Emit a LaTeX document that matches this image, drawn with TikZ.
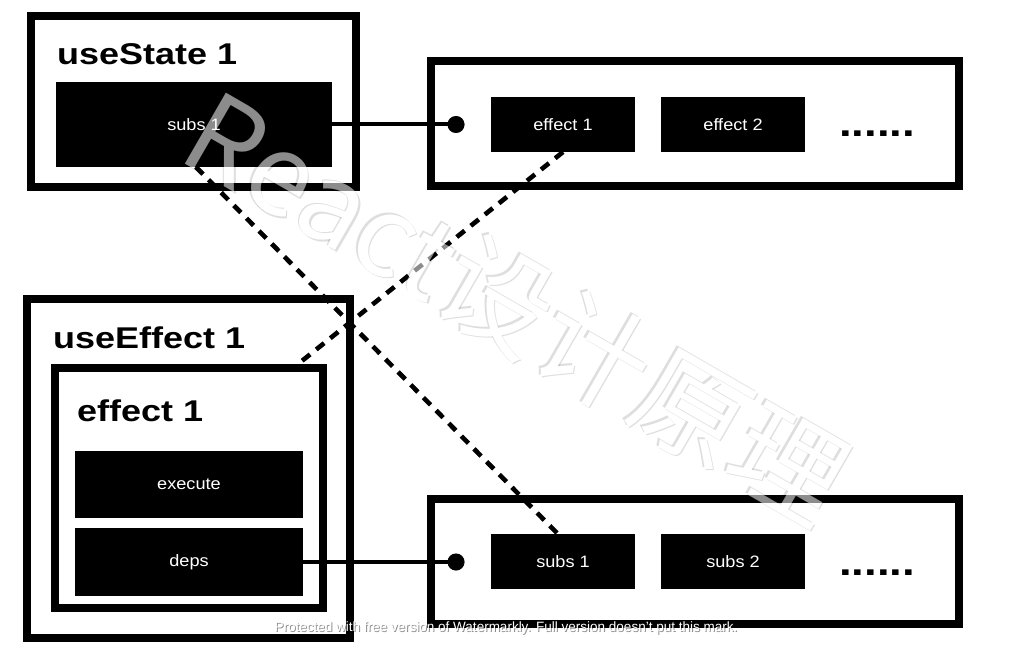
\documentclass[tikz,border=0pt]{standalone}
\usepackage{fontspec}
\setmainfont{Liberation Sans}
\newfontfamily\titlefont{Liberation Sans}[FakeStretch=1.2]
\newfontfamily\labelfont{Liberation Sans}[FakeStretch=1.1]
\newfontfamily\cjkfont{Noto Sans CJK SC}
\usetikzlibrary{calc}
% all black shapes (frames, boxes, connectors), without text
\newcommand{\drawshapes}{%
  \node[frame, minimum width=325pt, minimum height=171pt] (us) at (193.5,101.5) {};
  \node[blk, minimum width=276pt, minimum height=85pt] (ss1) at (194,124.5) {};
  \node[frame, minimum width=528pt, minimum height=125pt] (tl) at (695,123.5) {};
  \node[pin] (p1) at (456,124.5) {};
  \node[blk, minimum width=144pt, minimum height=55pt] (e1) at (563,124.5) {};
  \node[blk, minimum width=144pt, minimum height=55pt] (e2) at (733,124.5) {};
  \node[frame, minimum width=323pt, minimum height=339pt] (ue) at (188.5,468.5) {};
  \node[frame, minimum width=268pt, minimum height=240pt] (ef) at (189,488) {};
  \node[blk, minimum width=228pt, minimum height=67pt] (ex) at (189,484.5) {};
  \node[blk, minimum width=228pt, minimum height=68pt] (dp) at (189,562) {};
  \node[frame, minimum width=528pt, minimum height=125pt] (bl) at (695,561.5) {};
  \node[pin] (p2) at (456,562) {};
  \node[blk, minimum width=144pt, minimum height=55pt] (bs1) at (563,561.5) {};
  \node[blk, minimum width=144pt, minimum height=55pt] (bs2) at (733,561.5) {};
  \draw[link] (ss1.east) -- (p1.center);
  \draw[link] (dp.east) -- (p2.center);
  \draw[dlink] ($(ss1.south west)!0.507!(ss1.south east)$) -- ($(bs1.north west)!0.465!(bs1.north east)$);
  \draw[dlink] (e1.south) -- ($(ef.north west)!0.907!(ef.north east)+(0,-4)$);
}
\begin{document}
\begin{tikzpicture}[x=1pt,y=-1pt,
  frame/.style={draw=black, line width=8pt, inner sep=0pt, outer sep=0pt},
  blk/.style={fill=black, inner sep=0pt, outer sep=0pt},
  lbl/.style={text=white, inner sep=0pt, font=\labelfont\fontsize{16.5}{18}\selectfont},
  title/.style={anchor=base west, inner sep=0pt,
    font=\titlefont\bfseries\fontsize{30}{34}\selectfont},
  pin/.style={circle, fill=black, minimum size=17pt, inner sep=0pt, outer sep=0pt},
  link/.style={line width=4pt},
  dlink/.style={line width=4.5pt, dash pattern=on 10pt off 8pt},
  more/.style={anchor=base west, inner sep=0pt,
    font=\titlefont\bfseries\fontsize{38}{40}\selectfont},
  wmark/.style={font=\cjkfont\fontsize{112}{112}\selectfont, rotate=-30, inner sep=0pt},
  wnote/.style={font=\fontsize{13.5}{15}\selectfont, inner sep=0pt}
]
\useasboundingbox[fill=white] (0,0) rectangle (1011,652);

\drawshapes

% watermark: soft grey edge, white body, grey where it lies over black
\node[wmark, text=black, opacity=0.13] (wma) at (518.5,308.5) {React设计原理};
\node[wmark, text=black, opacity=0.13] (wmb) at (515.5,305.5) {React设计原理};
\node[wmark, text=white] (wm) at (517,307) {React设计原理};
\begin{scope}[opacity=0.45]
  \drawshapes
\end{scope}

% texts
\node[title] (ust) at (57,65) {useState 1};
\node[lbl] (ss1t) at (ss1) {subs 1};
\node[lbl] (e1t) at (e1) {effect 1};
\node[lbl] (e2t) at (e2) {effect 2};
\node[more] (m1) at (839,137) {......};
\node[title] (uet) at (53,348) {useEffect 1};
\node[title] (eft) at (77,421) {effect 1};
\node[lbl] (ext) at (ex) {execute};
\node[lbl] (dpt) at (dp) {deps};
\node[lbl] (bs1t) at (bs1) {subs 1};
\node[lbl] (bs2t) at (bs2) {subs 2};
\node[more] (m2) at (839,575) {......};

% footer note of the watermark tool
\node[wnote, text=black, opacity=0.45] (wn0) at (507,629.5) {Protected with free version of Watermarkly. Full version doesn't put this mark.};
\node[wnote, text=white] (wn) at (506,628) {Protected with free version of Watermarkly. Full version doesn't put this mark.};
\end{tikzpicture}
\end{document}
